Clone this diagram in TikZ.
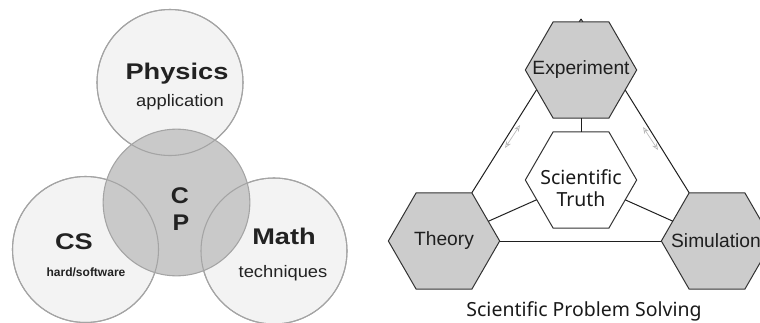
\documentclass[tikz,border=0pt]{standalone}
\usepackage{fontspec}
\setmainfont{Liberation Sans}
\newfontfamily\notosans{Noto Sans}
\usetikzlibrary{shapes.geometric,arrows.meta,backgrounds}
\definecolor{outerfill}{HTML}{F3F3F3}
\definecolor{cpfill}{HTML}{C9C9C9}
\definecolor{vennline}{HTML}{A4A4A4}
\definecolor{vtext}{HTML}{222222}
\definecolor{hexfill}{HTML}{CCCCCC}
\definecolor{hexline}{HTML}{333333}
\definecolor{faintc}{HTML}{B8B8B8}
\begin{document}
\begin{tikzpicture}[x=0.75pt,y=-0.75pt,
  outer/.style={circle, fill=outerfill, draw=vennline, line width=0.8pt, minimum size=109.5pt, inner sep=0pt},
  cpcircle/.style={circle, fill=cpfill, draw=vennline, line width=0.8pt, minimum size=110pt, inner sep=0pt},
  vring/.style={draw=vennline, line width=0.8pt},
  hdr/.style={text=vtext, font=\fontsize{17}{20}\selectfont\bfseries, inner sep=0pt, anchor=base},
  sub/.style={text=vtext, font=\fontsize{12.5}{15}\selectfont, inner sep=0pt, anchor=base},
  subb/.style={text=vtext, font=\fontsize{9}{11}\selectfont\bfseries, inner sep=0pt, anchor=base},
  hex/.style={regular polygon, regular polygon sides=6, minimum size=83.5pt, inner sep=0pt, outer sep=0pt, draw=hexline, line width=0.75pt, fill=hexfill},
  whitehex/.style={hex, fill=white},
  hexlabel/.style={text=black!88, font=\fontsize{14.4}{17}\selectfont, inner sep=0pt},
  noto/.style={text=black!90, font=\notosans\fontsize{14.6}{16.5}\selectfont, inner sep=0pt, align=center},
  link/.style={draw=black!88, line width=0.75pt},
  faint/.style={draw=faintc, line width=0.5pt, arrows={Stealth[open,length=5pt,width=4pt]-Stealth[open,length=5pt,width=4pt]}}
]
\useasboundingbox (0,0) rectangle (760,322);

% ---------- left: Venn diagram ----------
\node[outer] (phy) at (170,82.5) {};
\node[outer] (cs) at (85.5,249.5) {};
\node[outer] (mth) at (274,251) {};
\node[cpcircle] (cp) at (176.5,202.5) {};
\draw[vring] (phy.center) circle[radius=73];
\draw[vring] (cs.center) circle[radius=73];
\draw[vring] (mth.center) circle[radius=73];

\node[hdr] (tphy) at (177,79) {\scalebox{1.2}[1]{Physics}};
\node[sub] (tapp) at (180,106) {\scalebox{1.1}[1]{application}};
\node[hdr] (tc) at (180,203) {\scalebox{1.1}[1]{C}};
\node[hdr] (tp) at (181,230) {\scalebox{1.1}[1]{P}};
\node[hdr] (tcs) at (74,249) {\scalebox{1.2}[1]{CS}};
\node[subb] (thw) at (86,276) {hard/software};
\node[hdr] (tmath) at (284,244) {\scalebox{1.2}[1]{Math}};
\node[sub] (ttech) at (283,277) {\scalebox{1.1}[1]{techniques}};

% ---------- right: hexagons ----------
\node[hex] (exp) at (581,70) {};
\node[hex] (thy) at (444,241) {};
\node[hex] (sim) at (717,241) {};
\node[whitehex] (tru) at (581,180) {};
\coordinate (apex) at (581,19);

\node[hexlabel] (lexp) at (exp.center) {Experiment};
\node[hexlabel] (lthy) at (thy.center) {Theory};
\node[hexlabel] (lsim) at (716,241) {Simulation};
\node[noto] (ltru) at (581,188) {Scientific\\Truth};

\begin{scope}[on background layer]
  \draw[link] (apex) -- (thy.60);
  \draw[link] (apex) -- (sim.120);
\end{scope}
\draw[link] (thy) -- (sim);
\draw[link] (exp) -- (tru);
\draw[link] (tru) -- (thy);
\draw[link] (tru) -- (sim);

\coordinate (la1) at (520,125);
\coordinate (la2) at (505,148);
\coordinate (ra1) at (643,127);
\coordinate (ra2) at (658,150);
\draw[faint] (la1) -- (la2);
\draw[faint] (ra1) -- (ra2);

\node[noto, anchor=base] (title) at (584,316) {Scientific Problem Solving};
\end{tikzpicture}
\end{document}
